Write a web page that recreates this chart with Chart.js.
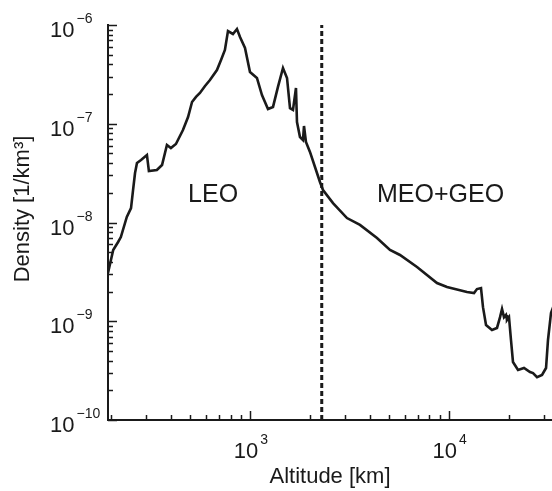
<!DOCTYPE html>
<html>
<head>
<meta charset="utf-8">
<script src="https://cdn.jsdelivr.net/npm/chart.js@4.4.1/dist/chart.umd.min.js"></script>
<style>
  html, body { margin: 0; padding: 0; background: #fff; overflow: hidden; }
</style>
</head>
<body>
<canvas id="grafico" width="552" height="491"></canvas>
<script>
// datos
const altitude = [193, 205, 217, 224, 240, 252, 258, 264, 270, 283, 303, 310, 340, 361, 382, 400, 424, 460, 488, 511,
  535, 560, 594, 629, 682, 715, 748, 775, 821, 860, 891, 944, 1000, 1084, 1149, 1232, 1306, 1383, 1466, 1536,
  1590, 1646, 1704, 1724, 1785, 1848, 1870, 1913, 2004, 2124, 2250, 2331, 2617, 3077, 3577, 4357, 5066, 5686, 6927, 8732,
  9804, 12360, 13410, 13880, 14540, 14880, 15410, 16510, 17500, 18130, 18550, 18980, 19430, 19650, 20110, 20580, 21060, 22330, 23930, 25660,
  26570, 27830, 29490, 30890, 31600, 32720, 36000];
const density = [3.08e-9, 5.27e-9, 6.35e-9, 7.13e-9, 1.14e-8, 1.40e-8, 2.13e-8, 3.17e-8, 4.01e-8, 4.30e-8, 4.83e-8, 3.32e-8, 3.40e-8, 3.82e-8, 6.10e-8, 5.68e-8, 6.24e-8, 8.65e-8, 1.17e-7, 1.66e-7,
  1.87e-7, 2.05e-7, 2.41e-7, 2.77e-7, 3.50e-7, 4.42e-7, 5.58e-7, 8.69e-7, 8.11e-7, 9.11e-7, 7.56e-7, 5.85e-7, 3.34e-7, 2.91e-7, 1.95e-7, 1.41e-7, 1.48e-7, 2.36e-7, 3.67e-7, 2.91e-7,
  1.44e-7, 1.38e-7, 2.30e-7, 1.04e-7, 7.34e-8, 6.85e-8, 9.49e-8, 6.54e-8, 5.18e-8, 3.65e-8, 2.57e-8, 2.13e-8, 1.57e-8, 1.11e-8, 9.44e-9, 6.97e-9, 5.27e-9, 4.69e-9, 3.54e-9, 2.44e-9,
  2.22e-9, 1.98e-9, 1.93e-9, 2.12e-9, 2.17e-9, 1.39e-9, 9.16e-10, 8.15e-10, 8.55e-10, 1.10e-9, 1.33e-9, 1.10e-9, 1.16e-9, 1.03e-9, 1.10e-9, 6.46e-10, 3.87e-10, 3.21e-10, 3.36e-10, 3.06e-10,
  2.99e-10, 2.72e-10, 2.86e-10, 3.36e-10, 6.46e-10, 1.21e-9, 2.07e-9];

// limite LEO / MEO+GEO
const boundaryAlt = [2297, 2297];
const boundaryDens = [1e-10, 1e-6];

// etiquetas de los ejes
const xTickExp = [3, 4];
const yTickExp = [-10, -9, -8, -7, -6];
const regionLabels = ['LEO', 'MEO+GEO'];
const regionAlt = [652, 9100];
const regionDens = [1.6e-8, 1.6e-8];
const yTitle = 'Density [1/km\u00B3]';

const FONT = '"Liberation Sans", Arial, Helvetica, sans-serif';
const INK = '#1a1a1a';

// ticks hacia adentro + etiquetas 10^n + textos LEO / MEO+GEO
const ejesPlugin = {
  id: 'ejes',
  afterDraw(chart) {
    const ctx = chart.ctx;
    const xs = chart.scales.x;
    const ys = chart.scales.y;
    const area = chart.chartArea;
    ctx.save();
    ctx.strokeStyle = INK;
    ctx.lineWidth = 1.5;

    // ticks eje y
    for (let e = -10; e <= -6; e++) {
      for (let m = 1; m <= 9; m++) {
        const v = m * Math.pow(10, e);
        if (v > 1.0001e-6) break;
        const py = Math.round(ys.getPixelForValue(v)) + 0.5;
        const len = m === 1 ? 9 : 5;
        ctx.beginPath();
        ctx.moveTo(area.left, py);
        ctx.lineTo(area.left + len, py);
        ctx.stroke();
      }
    }
    // ticks eje x
    for (let e = 2; e <= 4; e++) {
      for (let m = 1; m <= 9; m++) {
        const v = m * Math.pow(10, e);
        if (v < xs.min || v > xs.max) continue;
        const px = Math.round(xs.getPixelForValue(v)) + 0.5;
        const len = m === 1 ? 9 : 5;
        ctx.beginPath();
        ctx.moveTo(px, area.bottom);
        ctx.lineTo(px, area.bottom - len);
        ctx.stroke();
      }
    }

    ctx.fillStyle = INK;
    ctx.textBaseline = 'alphabetic';
    ctx.textAlign = 'left';

    // etiquetas eje y
    yTickExp.forEach(function(e) {
      const py = ys.getPixelForValue(Math.pow(10, e));
      ctx.font = '22px ' + FONT;
      ctx.fillText('10', 50, py + 12);
      const w = ctx.measureText('10').width;
      ctx.font = '14px ' + FONT;
      ctx.fillText('\u2212' + Math.abs(e), 50 + w + 2, py - 2);
    });

    // etiquetas eje x
    xTickExp.forEach(function(e) {
      const px = xs.getPixelForValue(Math.pow(10, e));
      ctx.font = '22px ' + FONT;
      const w1 = ctx.measureText('10').width;
      ctx.font = '14px ' + FONT;
      const w2 = ctx.measureText(String(e)).width;
      const x0 = px - (w1 + w2 + 2) / 2 + 1;
      ctx.font = '22px ' + FONT;
      ctx.fillText('10', x0, 458);
      ctx.font = '14px ' + FONT;
      ctx.fillText(String(e), x0 + w1 + 2, 444);
    });

    // regiones
    ctx.font = '25px ' + FONT;
    ctx.textAlign = 'center';
    regionLabels.forEach(function(t, i) {
      ctx.fillText(t, xs.getPixelForValue(regionAlt[i]), ys.getPixelForValue(regionDens[i]));
    });

    // titulo eje y
    ctx.translate(23, 209);
    ctx.rotate(-Math.PI / 2);
    ctx.font = '22px ' + FONT;
    ctx.textBaseline = 'middle';
    ctx.fillText(yTitle, 0, 0);
    ctx.restore();
  }
};

const ctx = document.getElementById('grafico').getContext('2d');
new Chart(ctx, {
  type: 'line',
  data: {
    datasets: [{
      label: 'Density',
      data: altitude.map((a, i) => ({ x: a, y: density[i] })),
      borderColor: INK,
      borderWidth: 2.6,
      pointRadius: 0,
      tension: 0,
      fill: false
    },
    {
      label: 'Boundary',
      data: boundaryAlt.map((a, i) => ({ x: a, y: boundaryDens[i] })),
      borderColor: INK,
      borderWidth: 3,
      borderDash: [5, 3],
      pointRadius: 0,
      fill: false
    }]
  },
  options: {
    responsive: false,
    animation: false,
    events: [],
    layout: { padding: { top: 25, right: 0, bottom: 0, left: 0 } },
    plugins: { legend: { display: false }, tooltip: { enabled: false } },
    scales: {
      x: {
        type: 'logarithmic',
        min: 193,
        max: 33100,
        grid: { display: false },
        border: { display: true, color: INK, width: 2 },
        ticks: { display: false },
        title: {
          display: true,
          text: 'Altitude [km]',
          color: INK,
          font: { family: FONT, size: 22 },
          padding: { top: 0, bottom: 1 }
        },
        afterFit(scale) { scale.height = 71; }
      },
      y: {
        type: 'logarithmic',
        min: 1e-10,
        max: 1e-6,
        grid: { display: false },
        border: { display: true, color: INK, width: 2 },
        ticks: { display: false },
        afterFit(scale) { scale.width = 108; }
      }
    }
  },
  plugins: [ejesPlugin]
});
</script>
</body>
</html>
